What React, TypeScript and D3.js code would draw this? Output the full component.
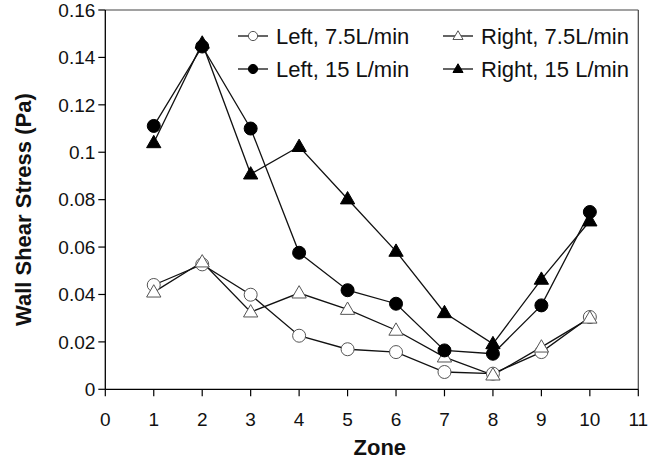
import React from "react";
import * as d3 from "d3";

const zones = [1, 2, 3, 4, 5, 6, 7, 8, 9, 10];
const left75 = [0.044, 0.0527, 0.0399, 0.0226, 0.0169, 0.0157, 0.0073, 0.0066, 0.0157, 0.0305];
const right75 = [0.041, 0.0537, 0.0326, 0.0406, 0.0337, 0.0249, 0.0136, 0.006, 0.0178, 0.030];
const left15 = [0.1111, 0.1446, 0.110, 0.0576, 0.0418, 0.0361, 0.0164, 0.015, 0.0354, 0.0748];
const right15 = [0.104, 0.146, 0.0908, 0.1024, 0.0803, 0.0582, 0.0323, 0.0192, 0.0464, 0.071];
const xTicks = [0, 1, 2, 3, 4, 5, 6, 7, 8, 9, 10, 11];
const yTicks = [0, 0.02, 0.04, 0.06, 0.08, 0.1, 0.12, 0.14, 0.16];
const yTickLabels = ["0", "0.02", "0.04", "0.06", "0.08", "0.1", "0.12", "0.14", "0.16"];

type Series = { name: string; values: number[]; marker: "circle" | "triangle"; filled: boolean };
const series: Series[] = [
  { name: "Left, 7.5L/min", values: left75, marker: "circle", filled: false },
  { name: "Right, 7.5L/min", values: right75, marker: "triangle", filled: false },
  { name: "Left, 15 L/min", values: left15, marker: "circle", filled: true },
  { name: "Right, 15 L/min", values: right15, marker: "triangle", filled: true },
];

const W = 660, H = 464;
const m = { left: 105.3, right: 660 - 638.3, top: 10, bottom: 464 - 389.3 };
const FONT = "'Liberation Sans', Arial, sans-serif";

function Marker({ s, x, y, size }: { s: Series; x: number; y: number; size: number }) {
  const fill = s.filled ? "#000" : "#fff";
  const stroke = s.filled ? "#000" : "#555";
  if (s.marker === "circle") {
    return <circle cx={x} cy={y} r={size} fill={fill} stroke={stroke} strokeWidth={1} />;
  }
  const h = size * 1.9;
  const w = size * 2.2;
  const pts = `${x},${y - h * 0.6} ${x + w / 2},${y + h * 0.4} ${x - w / 2},${y + h * 0.4}`;
  return <polygon points={pts} fill={fill} stroke={stroke} strokeWidth={1} />;
}

export default function App() {
  const x = d3.scaleLinear().domain([0, 11]).range([m.left, W - m.right]);
  const y = d3.scaleLinear().domain([0, 0.16]).range([H - m.bottom, m.top]);
  const line = d3
    .line<number>()
    .x((_, i) => x(zones[i]))
    .y((d) => y(d));

  const legendPos = [
    { lx: 238, ty: 36 },
    { lx: 443, ty: 36 },
    { lx: 238, ty: 69 },
    { lx: 443, ty: 69 },
  ];

  return (
    <svg width={W} height={H} style={{ position: "absolute", left: 0, top: 0, background: "#fff" }} fontFamily={FONT}>
      {/* frame */}
      <line x1={x(0)} x2={x(11)} y1={y(0.16)} y2={y(0.16)} stroke="#444" strokeWidth={1.2} />
      <line x1={x(11)} x2={x(11)} y1={y(0.16)} y2={y(0)} stroke="#444" strokeWidth={1.2} />
      {/* axes */}
      <line x1={x(0)} x2={x(11)} y1={y(0)} y2={y(0)} stroke="#000" strokeWidth={1.3} />
      <line x1={x(0)} x2={x(0)} y1={y(0.16)} y2={y(0)} stroke="#000" strokeWidth={1.3} />
      {yTicks.map((t, i) => (
        <g key={"y" + i}>
          <line x1={x(0) - 7} x2={x(0)} y1={y(t)} y2={y(t)} stroke="#000" strokeWidth={1.2} />
          <text x={x(0) - 10} y={y(t)} dy="0.36em" textAnchor="end" fontSize={19} fill="#111">
            {yTickLabels[i]}
          </text>
        </g>
      ))}
      {xTicks.map((t) => (
        <g key={"x" + t}>
          <line x1={x(t)} x2={x(t)} y1={y(0)} y2={y(0) + 7} stroke="#000" strokeWidth={1.2} />
          <text x={x(t)} y={y(0) + 30} dy="0.36em" textAnchor="middle" fontSize={19} fill="#111">
            {t}
          </text>
        </g>
      ))}
      <text
        transform={`translate(23,${(y(0) + y(0.16)) / 2 + 10}) rotate(-90)`}
        textAnchor="middle"
        dy="0.36em"
        fontSize={22}
        fontWeight="bold"
        fill="#111"
      >
        Wall Shear Stress (Pa)
      </text>
      <text x={(x(0) + x(11)) / 2 + 8} y={447} dy="0.36em" textAnchor="middle" fontSize={22} fontWeight="bold" fill="#111">
        Zone
      </text>
      {/* series */}
      {series.map((s, si) => (
        <g key={"s" + si}>
          <path d={line(s.values) || ""} fill="none" stroke="#111" strokeWidth={1.3} />
        </g>
      ))}
      {series.map((s, si) => (
        <g key={"m" + si}>
          {s.values.map((v, i) => (
            <Marker key={i} s={s} x={x(zones[i])} y={y(v)} size={6.5} />
          ))}
        </g>
      ))}
      {/* legend */}
      {series.map((s, si) => {
        const p = legendPos[si];
        return (
          <g key={"l" + si}>
            <line x1={p.lx} x2={p.lx + 30} y1={p.ty} y2={p.ty} stroke="#111" strokeWidth={1.3} />
            <Marker s={s} x={p.lx + 15} y={p.ty} size={4.6} />
            <text x={p.lx + 38} y={p.ty} dy="0.36em" fontSize={22} fill="#111">
              {s.name}
            </text>
          </g>
        );
      })}
    </svg>
  );
}
